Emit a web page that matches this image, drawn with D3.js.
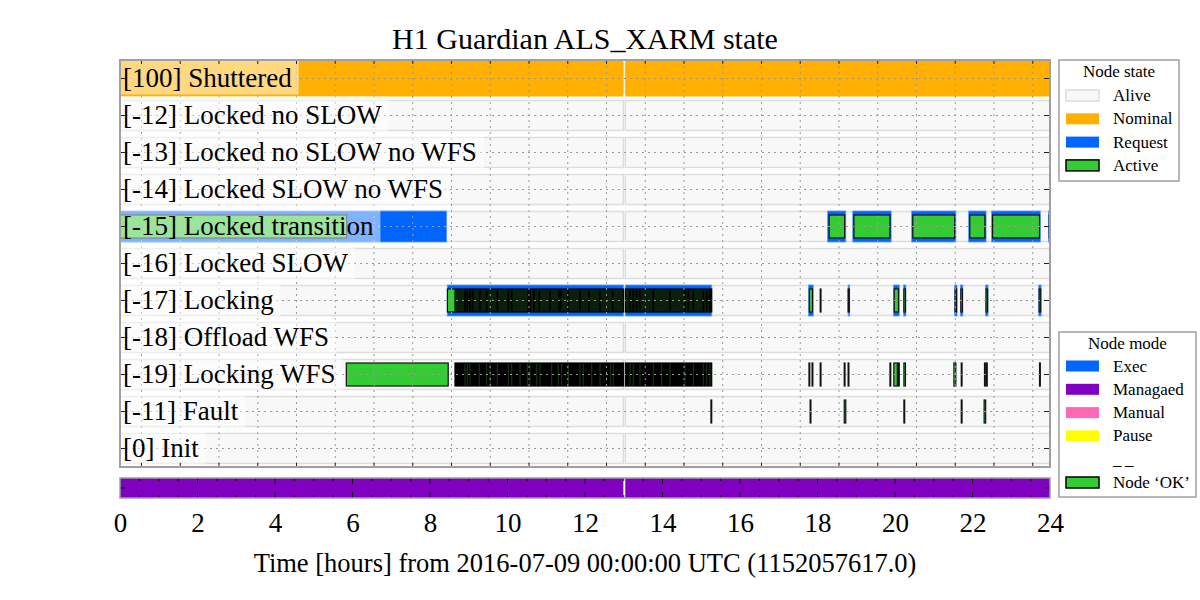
<!DOCTYPE html>
<html><head><meta charset="utf-8">
<script src="https://cdn.jsdelivr.net/npm/d3@7"></script>
<style>
body{margin:0;background:#fff}
svg{display:block}
text{font-family:"Liberation Serif","Times New Roman",serif;fill:#000}
</style>
</head><body>
<svg id="chart" width="1200" height="600"></svg>
<script>
// ---------------- data ----------------
const chartTitle = "H1 Guardian ALS_XARM state";
const xAxisLabel = "Time [hours] from 2016-07-09 00:00:00 UTC (1152057617.0)";
const stateLabels = [
  "[100] Shuttered", "[-12] Locked no SLOW", "[-13] Locked no SLOW no WFS",
  "[-14] Locked SLOW no WFS", "[-15] Locked transition", "[-16] Locked SLOW",
  "[-17] Locking", "[-18] Offload WFS", "[-19] Locking WFS", "[-11] Fault", "[0] Init"
];
const xTickValues = [0, 2, 4, 6, 8, 10, 12, 14, 16, 18, 20, 22, 24];
const mainTickHours = [0.555, 1.555, 2.555, 3.555, 4.555, 5.555, 6.555, 7.555, 8.555, 9.555, 10.555, 11.555,
  12.555, 13.555, 14.555, 15.555, 16.555, 17.555, 18.555, 19.555, 20.555, 21.555, 22.555, 23.555];
const modeMinorTicks = [0.5, 1, 1.5, 2.5, 3, 3.5, 4.5, 5, 5.5, 6.5, 7, 7.5, 8.5, 9, 9.5, 10.5, 11, 11.5,
  12.5, 13, 13.5, 14.5, 15, 15.5, 16.5, 17, 17.5, 18.5, 19, 19.5, 20.5, 21, 21.5, 22.5, 23, 23.5];
const modeMajorTicks = [2, 4, 6, 8, 10, 12, 14, 16, 18, 20, 22];

// node alive (data present) segments, hours
const aliveSegments = [[0, 12.99], [13.04, 24]];
// nominal state segments: [row, start, end]
const nominalSegments = [[0, 0, 12.99], [0, 13.04, 24]];
// requested state segments: [row, start, end]
const requestSegments = [
  [4, 0, 8.43], [4, 18.26, 18.73], [4, 18.91, 19.90], [4, 20.43, 21.57], [4, 21.90, 22.35], [4, 22.49, 23.75], [4, 23.96, 24],
  [6, 8.445, 12.99], [6, 13.04, 15.27], [6, 17.77, 17.89], [6, 18.79, 18.83], [6, 19.96, 20.11], [6, 20.22, 20.28],
  [6, 21.54, 21.60], [6, 21.69, 21.75], [6, 22.34, 22.40], [6, 23.71, 23.77]
];
// active state segments: [row, start, end]
const activeSegments = [
  [4, 0, 5.85], [4, 18.30, 18.70], [4, 18.94, 19.87], [4, 20.46, 21.54], [4, 21.93, 22.32], [4, 22.52, 23.73], [4, 23.98, 24],
  [6, 8.45, 8.645], [6, 17.79, 17.87], [6, 18.07, 18.09], [6, 18.79, 18.82], [6, 19.98, 20.09], [6, 20.23, 20.27],
  [6, 21.55, 21.59], [6, 21.70, 21.74], [6, 22.35, 22.39], [6, 23.72, 23.76],
  [8, 5.84, 8.47], [8, 17.78, 17.80], [8, 17.86, 17.88], [8, 18.07, 18.09], [8, 18.69, 18.71], [8, 18.79, 18.81],
  [8, 19.87, 19.89], [8, 19.97, 20.06], [8, 20.09, 20.11], [8, 20.23, 20.27], [8, 21.52, 21.57], [8, 21.71, 21.73],
  [8, 22.31, 22.33], [8, 22.36, 22.38], [8, 23.73, 23.75],
  [9, 15.25, 15.27], [9, 17.81, 17.83], [9, 18.69, 18.73], [9, 20.23, 20.25], [9, 21.71, 21.73], [9, 22.30, 22.34]
];
// rapid toggling between Locking (-17) and Locking WFS (-19)
const denseLocking = [[8.645, 12.99], [13.04, 15.27]];
const denseLockingWFS = [[8.645, 12.99], [13.04, 15.27]];
const lockingStripes = [8.903, 8.963, 9.032, 9.101, 9.290, 9.462, 9.737, 10.021, 10.108, 10.538, 10.581, 10.684,
  10.822, 11.097, 11.329, 11.372, 11.570, 11.871, 12.103, 12.387, 12.714, 13.161, 13.247, 13.333, 13.419,
  13.763, 14.194, 14.581, 14.667, 14.796, 15.054, 15.140, 15.226];
const lockingWFSStripes = [8.903, 8.963, 9.032, 9.273, 9.462, 9.548, 9.737, 10.021, 10.108, 10.323, 10.512,
  10.581, 10.753, 10.839, 11.140, 11.312, 11.398, 11.570, 11.871, 11.957, 12.172, 12.387, 12.662, 12.731,
  13.161, 13.247, 13.419, 13.763, 13.978, 14.194, 14.581, 14.796, 15.054, 15.140, 15.226];
// node mode (Managed) segments
const modeSegments = [[0, 12.99], [13.04, 24]];

const stateLegendLabels = ["Alive", "Nominal", "Request", "Active"];
const modeLegendLabels = ["Exec", "Managaed", "Manual", "Pause", "_\u2009_", "Node \u2018OK\u2019"];

// ---------------- styling ----------------
const C = {
  aliveFill: "#f8f8f8", aliveEdge: "#dddddd", nominal: "#ffb000", request: "#0066ff",
  active: "#33cc33", managed: "#7f00bf", manual: "#ff69b4", pause: "#ffff00",
  denseLocking: "#0b200b", denseLockingWFS: "#000000", grid: "#9a9a9a", frame: "#a0a0a0"
};
const L = { left: 120, right: 1050, top: 60, bottom: 467, modeTop: 478, modeBottom: 498 };

const svg = d3.select("#chart");
const x = d3.scaleLinear().domain([0, 24]).range([L.left, L.right]);
const y = d3.scaleLinear().domain([-0.5, 10.5]).range([L.top, L.bottom]);

svg.append("defs").append("clipPath").attr("id", "plotClip")
  .append("rect").attr("x", L.left).attr("y", L.top).attr("width", L.right - L.left).attr("height", L.bottom - L.top);

const plot = svg.append("g").attr("clip-path", "url(#plotClip)");

// alive background bars for every row
const aliveData = [];
stateLabels.forEach((s, i) => aliveSegments.forEach(seg => aliveData.push([i, seg[0], seg[1]])));
plot.append("g").selectAll("rect").data(aliveData).join("rect")
  .attr("x", d => x(d[1])).attr("width", d => x(d[2]) - x(d[1]))
  .attr("y", d => y(d[0]) - 15).attr("height", 30)
  .attr("fill", C.aliveFill).attr("stroke", C.aliveEdge).attr("stroke-width", 1.5);

// nominal
plot.append("g").selectAll("rect").data(nominalSegments).join("rect")
  .attr("x", d => x(d[1])).attr("width", d => x(d[2]) - x(d[1]))
  .attr("y", d => y(d[0]) - 18.5).attr("height", 36.5)
  .attr("fill", C.nominal);

// request
plot.append("g").selectAll("rect").data(requestSegments).join("rect")
  .attr("x", d => x(d[1])).attr("width", d => Math.max(1, x(d[2]) - x(d[1])))
  .attr("y", d => y(d[0]) - 15.5).attr("height", 31)
  .attr("fill", C.request).attr("stroke", "#5b9bff").attr("stroke-width", 0.8);

// dense toggling regions
plot.append("g").selectAll("rect").data(denseLocking).join("rect")
  .attr("x", d => x(d[0])).attr("width", d => x(d[1]) - x(d[0]))
  .attr("y", y(6) - 11.5).attr("height", 23)
  .attr("fill", C.denseLocking).attr("stroke", "#000").attr("stroke-width", 1.2);
plot.append("g").selectAll("rect").data(denseLockingWFS).join("rect")
  .attr("x", d => x(d[0])).attr("width", d => x(d[1]) - x(d[0]))
  .attr("y", y(8) - 11.5).attr("height", 23)
  .attr("fill", C.denseLockingWFS).attr("stroke", "#000").attr("stroke-width", 1.2);
plot.append("g").selectAll("line").data(lockingStripes).join("line")
  .attr("x1", d => x(d)).attr("x2", d => x(d))
  .attr("y1", y(6) - 11).attr("y2", y(6) + 11)
  .attr("stroke", "#000").attr("stroke-width", 1.6);
plot.append("g").selectAll("line").data(lockingWFSStripes).join("line")
  .attr("x1", d => x(d)).attr("x2", d => x(d))
  .attr("y1", y(8) - 11).attr("y2", y(8) + 11)
  .attr("stroke", "#123512").attr("stroke-width", 1.2);

// active
plot.append("g").selectAll("rect").data(activeSegments).join("rect")
  .attr("x", d => x(d[1])).attr("width", d => Math.max(0.3, x(d[2]) - x(d[1])))
  .attr("y", d => y(d[0]) - 11.5).attr("height", 23)
  .attr("fill", C.active).attr("stroke", "#111").attr("stroke-width", 1.2);

// grid (dotted)
const grid = plot.append("g").attr("stroke", C.grid).attr("stroke-width", 1).attr("stroke-dasharray", "2,4");
grid.selectAll("line.h").data(stateLabels).join("line").attr("class", "h")
  .attr("x1", L.left).attr("x2", L.right).attr("y1", (d, i) => y(i)).attr("y2", (d, i) => y(i));
grid.selectAll("line.v").data(mainTickHours).join("line").attr("class", "v")
  .attr("x1", d => x(d)).attr("x2", d => x(d)).attr("y1", L.top).attr("y2", L.bottom);

// row labels with translucent boxes
const labG = plot.append("g");
stateLabels.forEach((s, i) => {
  const g = labG.append("g");
  const box = g.append("rect");
  const t = g.append("text").attr("x", L.left + 3).attr("y", y(i) + 8)
    .attr("font-size", 27).text(s);
  const w = t.node().getComputedTextLength();
  box.attr("x", L.left - 4).attr("width", w + 14).attr("y", y(i) - 19).attr("height", 35)
    .attr("fill", "#fff").attr("fill-opacity", 0.5);
});

// ticks of main axes
const tk = svg.append("g").attr("stroke", "#222").attr("stroke-width", 1);
tk.selectAll("line.b").data(mainTickHours).join("line").attr("class", "b")
  .attr("x1", d => x(d)).attr("x2", d => x(d)).attr("y1", L.bottom).attr("y2", L.bottom - 4);
tk.selectAll("line.t").data(mainTickHours).join("line").attr("class", "t")
  .attr("x1", d => x(d)).attr("x2", d => x(d)).attr("y1", L.top).attr("y2", L.top + 4);
tk.selectAll("line.l").data(stateLabels).join("line").attr("class", "l")
  .attr("x1", L.left).attr("x2", L.left + 5).attr("y1", (d, i) => y(i)).attr("y2", (d, i) => y(i));
tk.selectAll("line.r").data(stateLabels).join("line").attr("class", "r")
  .attr("x1", L.right).attr("x2", L.right - 6).attr("y1", (d, i) => y(i)).attr("y2", (d, i) => y(i));

// frame
svg.append("rect").attr("x", L.left).attr("y", L.top).attr("width", L.right - L.left).attr("height", L.bottom - L.top)
  .attr("fill", "none").attr("stroke", C.frame).attr("stroke-width", 2);

// ---------------- mode bar ----------------
svg.append("g").selectAll("rect").data(modeSegments).join("rect")
  .attr("x", d => x(d[0])).attr("width", d => x(d[1]) - x(d[0]))
  .attr("y", L.modeTop).attr("height", L.modeBottom - L.modeTop)
  .attr("fill", C.managed);
const mt = svg.append("g").attr("stroke", "#111").attr("stroke-width", 1);
mt.selectAll("line.a").data(modeMinorTicks).join("line").attr("class", "a")
  .attr("x1", d => x(d)).attr("x2", d => x(d)).attr("y1", L.modeTop).attr("y2", L.modeTop + 3);
mt.selectAll("line.b").data(modeMinorTicks).join("line").attr("class", "b")
  .attr("x1", d => x(d)).attr("x2", d => x(d)).attr("y1", L.modeBottom).attr("y2", L.modeBottom - 3);
mt.selectAll("line.c").data(modeMajorTicks).join("line").attr("class", "c")
  .attr("x1", d => x(d)).attr("x2", d => x(d)).attr("y1", L.modeTop).attr("y2", L.modeTop + 6);
mt.selectAll("line.d").data(modeMajorTicks).join("line").attr("class", "d")
  .attr("x1", d => x(d)).attr("x2", d => x(d)).attr("y1", L.modeBottom).attr("y2", L.modeBottom - 6);
mt.append("line").attr("x1", L.left).attr("x2", L.left + 5).attr("y1", 488).attr("y2", 488);
mt.append("line").attr("x1", L.right).attr("x2", L.right - 5).attr("y1", 488).attr("y2", 488);
svg.append("rect").attr("x", L.left).attr("y", L.modeTop).attr("width", L.right - L.left).attr("height", L.modeBottom - L.modeTop)
  .attr("fill", "none").attr("stroke", C.frame).attr("stroke-width", 1.5);

// x axis labels
const xAxis = d3.axisBottom(x).tickValues(xTickValues).tickSize(0).tickPadding(0).tickFormat(d3.format("d"));
const xg = svg.append("g").attr("transform", `translate(0,${L.modeBottom})`).call(xAxis);
xg.select(".domain").remove();
xg.selectAll("text").attr("font-family", "Liberation Serif").attr("font-size", 27).attr("fill", "#000")
  .attr("dy", 0).attr("y", 34);

svg.append("text").attr("x", (L.left + L.right) / 2).attr("y", 572).attr("text-anchor", "middle")
  .attr("font-size", 26.5).text(xAxisLabel);
svg.append("text").attr("x", (L.left + L.right) / 2).attr("y", 49).attr("text-anchor", "middle")
  .attr("font-size", 30).text(chartTitle);

// ---------------- legends ----------------
function legend(x0, y0, w, h, title, labels, styles, firstY) {
  const g = svg.append("g");
  g.append("rect").attr("x", x0).attr("y", y0).attr("width", w).attr("height", h)
    .attr("fill", "#fff").attr("stroke", "#a0a0a0").attr("stroke-width", 1.5);
  g.append("text").attr("x", x0 + w / 2).attr("y", y0 + 17).attr("text-anchor", "middle")
    .attr("font-size", 17).text(title);
  labels.forEach((lab, i) => {
    const cy = firstY + i * 23.3;
    const st = styles[i];
    if (st) g.append("rect").attr("x", 1066).attr("y", cy - 5.5).attr("width", 33).attr("height", 11)
      .attr("fill", st.fill).attr("stroke", st.stroke || "none").attr("stroke-width", st.sw || 0);
    g.append("text").attr("x", 1113).attr("y", cy + 5.5).attr("font-size", 17).text(lab);
  });
}
legend(1059, 60, 120, 121, "Node state", stateLegendLabels, [
  { fill: C.aliveFill, stroke: C.aliveEdge, sw: 1.5 },
  { fill: C.nominal }, { fill: C.request },
  { fill: C.active, stroke: "#000", sw: 1.5 }
], 95.5);
legend(1059, 332, 137, 165, "Node mode", modeLegendLabels, [
  { fill: C.request }, { fill: C.managed }, { fill: C.manual }, { fill: C.pause }, null,
  { fill: C.active, stroke: "#000", sw: 1.5 }
], 366);
</script>
</body></html>
